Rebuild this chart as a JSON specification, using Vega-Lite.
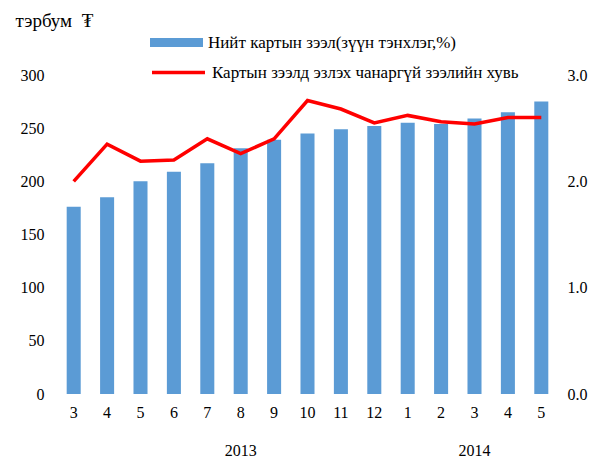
{
  "$schema": "https://vega.github.io/schema/vega-lite/v6.json",
  "width": 501,
  "height": 319,
  "autosize": "none",
  "padding": {"left": 57, "top": 75, "right": 56, "bottom": 65},
  "background": "white",
  "config": {
    "font": "Liberation Serif",
    "view": {"stroke": null},
    "axis": {"grid": false, "domain": false, "ticks": false, "labelFont": "Liberation Serif", "labelFontSize": 16, "labelColor": "#000", "titleFont": "Liberation Serif", "titleColor": "#000"},
    "legend": {"labelFont": "Liberation Serif", "labelFontSize": 17, "labelColor": "#000", "labelLimit": 400}
  },
  "data": {
    "values": [
      {"period": "2013-3", "loan": 176, "npl": 2.00},
      {"period": "2013-4", "loan": 185, "npl": 2.35},
      {"period": "2013-5", "loan": 200, "npl": 2.19},
      {"period": "2013-6", "loan": 209, "npl": 2.20},
      {"period": "2013-7", "loan": 217, "npl": 2.40},
      {"period": "2013-8", "loan": 231, "npl": 2.26},
      {"period": "2013-9", "loan": 239, "npl": 2.40},
      {"period": "2013-10", "loan": 245, "npl": 2.76},
      {"period": "2013-11", "loan": 249, "npl": 2.68},
      {"period": "2013-12", "loan": 252, "npl": 2.55},
      {"period": "2014-1", "loan": 255, "npl": 2.62},
      {"period": "2014-2", "loan": 254, "npl": 2.56},
      {"period": "2014-3", "loan": 259, "npl": 2.54},
      {"period": "2014-4", "loan": 265, "npl": 2.60},
      {"period": "2014-5", "loan": 275, "npl": 2.60}
    ]
  },
  "encoding": {
    "x": {
      "field": "period",
      "type": "ordinal",
      "sort": null,
      "scale": {"paddingInner": 0.58, "paddingOuter": 0.29},
      "axis": {
        "title": null,
        "labelAngle": 0,
        "labelPadding": 10,
        "labelFont": "Liberation Serif",
        "labelLineHeight": 38,
        "labelExpr": "datum.value == '2013-8' ? ['8', '2013'] : datum.value == '2014-3' ? ['3', '2014'] : split(datum.value, '-')[1]"
      }
    }
  },
  "layer": [
    {
      "mark": {"type": "bar", "color": "#5B9BD5"},
      "encoding": {
        "y": {
          "field": "loan",
          "type": "quantitative",
          "scale": {"domain": [0, 300]},
          "axis": {
            "values": [0, 50, 100, 150, 200, 250, 300],
            "labelPadding": 13,
            "labelFont": "Liberation Serif",
            "title": "тэрбум\u00a0\u00a0₮",
            "titleFont": "Liberation Serif",
            "titleAngle": 0,
            "titleAlign": "left",
            "titleBaseline": "middle",
            "titleX": -42,
            "titleY": -55,
            "titleFontSize": 19,
            "titleFontWeight": "normal"
          }
        },
        "fill": {
          "datum": "Нийт картын зээл(зүүн тэнхлэг,%)",
          "scale": {"range": ["#5B9BD5"]},
          "legend": {
            "title": null,
            "orient": "none",
            "legendX": 93,
            "legendY": -59,
            "symbolType": "M-1,-0.17H1V0.17H-1Z",
            "symbolSize": 2809,
            "symbolStrokeWidth": 0,
            "labelOffset": 5
          }
        }
      }
    },
    {
      "mark": {"type": "line", "color": "#FF0000", "strokeWidth": 3.5},
      "encoding": {
        "y": {
          "field": "npl",
          "type": "quantitative",
          "scale": {"domain": [0, 3]},
          "axis": {"orient": "right", "values": [0, 1, 2, 3], "format": ".1f", "title": null, "labelPadding": 9, "labelFont": "Liberation Serif"}
        },
        "stroke": {
          "datum": "Картын зээлд эзлэх чанаргүй зээлийн хувь",
          "scale": {"range": ["#FF0000"]},
          "legend": {
            "title": null,
            "orient": "none",
            "legendX": 93,
            "legendY": -31,
            "symbolType": "stroke",
            "symbolSize": 2809,
            "symbolStrokeWidth": 3.5,
            "labelOffset": 5
          }
        }
      }
    }
  ],
  "resolve": {"scale": {"y": "independent", "fill": "independent", "stroke": "independent"}}
}
